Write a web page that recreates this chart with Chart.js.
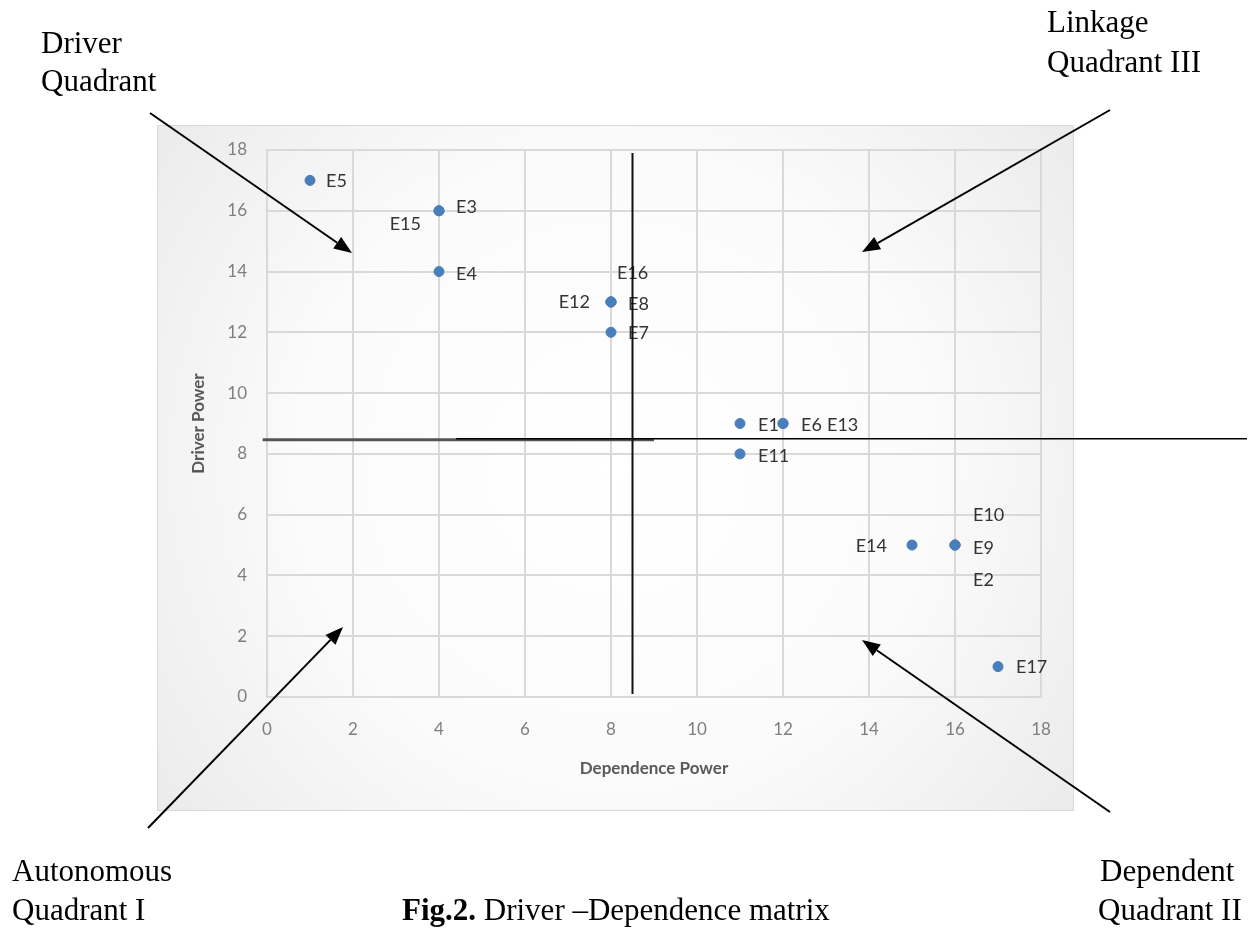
<!DOCTYPE html>
<html>
<head>
<meta charset="utf-8">
<script src="https://cdn.jsdelivr.net/npm/chart.js@4.4.0/dist/chart.umd.min.js"></script>
<style>
body { margin: 0; background: #fff; }
#wrap { width: 1260px; height: 935px; position: relative; }
</style>
</head>
<body>
<div id="wrap"><canvas id="matrix"></canvas></div>
<script>
// elements and their (dependence, driver) power
var codes      = ['E1','E2','E3','E4','E5','E6','E7','E8','E9','E10','E11','E12','E13','E14','E15','E16','E17'];
var dependence = [11, 16, 4, 4, 1, 12, 8, 8, 16, 16, 11, 8, 12, 15, 4, 8, 17];
var driver     = [9, 5, 16, 14, 17, 9, 12, 13, 5, 5, 8, 13, 9, 5, 16, 13, 1];
var axisTicks  = [0, 2, 4, 6, 8, 10, 12, 14, 16, 18];
var cutDependence = 8.5;
var cutDriver = 8.5;

// where each label sits next to its point (px offset, text alignment)
var labelPlace = {
    E1: [18, 2, 'left'], E2: [18, 35, 'left'], E3: [17, -4, 'left'], E4: [17, 3, 'left'],
    E5: [16, 1, 'left'], E6: [18, 2, 'left'], E7: [17, 1, 'left'], E8: [17, 2, 'left'],
    E9: [18, 3, 'left'], E10: [18, -30, 'left'], E11: [18, 2, 'left'], E12: [-21, 0, 'right'],
    E13: [44, 2, 'left'], E14: [-25, 1, 'right'], E15: [-18, 13, 'right'], E16: [6, -29, 'left'],
    E17: [18, 1, 'left']
};

var points = dependence.map(function(d, i) { return {x: d, y: driver[i]}; });

function arrow(ctx, x1, y1, x2, y2) {
    var len = Math.hypot(x2 - x1, y2 - y1);
    var ux = (x2 - x1) / len, uy = (y2 - y1) / len;
    var head = 18, half = 7;
    ctx.beginPath();
    ctx.moveTo(x1, y1);
    ctx.lineTo(x2 - ux * head, y2 - uy * head);
    ctx.stroke();
    ctx.beginPath();
    ctx.moveTo(x2, y2);
    ctx.lineTo(x2 - ux * head - uy * half, y2 - uy * head + ux * half);
    ctx.lineTo(x2 - ux * head + uy * half, y2 - uy * head - ux * half);
    ctx.closePath();
    ctx.fill();
}

var decor = {
    id: 'decor',
    beforeDraw: function(chart) {
        var ctx = chart.ctx, a = chart.chartArea;
        var bx = a.left - 110, by = a.top - 25, bw = (a.right + 32) - bx, bh = (a.bottom + 113) - by;
        ctx.save();
        var g = ctx.createRadialGradient(bx + bw / 2, by + bh / 2, 0, bx + bw / 2, by + bh / 2, Math.hypot(bw, bh) / 2);
        g.addColorStop(0, '#ffffff');
        g.addColorStop(0.55, '#fbfbfb');
        g.addColorStop(1, '#ebebeb');
        ctx.fillStyle = g;
        ctx.fillRect(bx, by, bw, bh);
        ctx.strokeStyle = '#d9d9d9';
        ctx.lineWidth = 1;
        ctx.strokeRect(bx + 0.5, by + 0.5, bw, bh);
        ctx.restore();
    },
    afterDatasetsDraw: function(chart) {
        var ctx = chart.ctx, xs = chart.scales.x, ys = chart.scales.y;
        ctx.save();
        // point labels
        ctx.font = '18px Lato';
        ctx.fillStyle = '#333333';
        ctx.textBaseline = 'middle';
        codes.forEach(function(c, i) {
            var p = labelPlace[c];
            ctx.textAlign = p[2];
            ctx.fillText(c, xs.getPixelForValue(dependence[i]) + p[0], ys.getPixelForValue(driver[i]) + p[1]);
        });

        // quadrant dividers
        var hy = ys.getPixelForValue(cutDriver);
        ctx.strokeStyle = '#555555';
        ctx.lineWidth = 3;
        ctx.beginPath();
        ctx.moveTo(xs.getPixelForValue(-0.1), hy + 1);
        ctx.lineTo(xs.getPixelForValue(9), hy + 1);
        ctx.stroke();
        ctx.strokeStyle = '#000';
        ctx.lineWidth = 1.6;
        ctx.beginPath();
        ctx.moveTo(xs.getPixelForValue(4.4), hy);
        ctx.lineTo(chart.width - 13, hy);
        ctx.stroke();
        var vx = xs.getPixelForValue(cutDependence);
        ctx.lineWidth = 2;
        ctx.strokeStyle = '#111';
        ctx.beginPath();
        ctx.moveTo(vx, ys.getPixelForValue(17.9));
        ctx.lineTo(vx, ys.getPixelForValue(0.1));
        ctx.stroke();

        // arrows to quadrants
        ctx.strokeStyle = '#000';
        ctx.fillStyle = '#000';
        ctx.lineWidth = 2;
        arrow(ctx, 150, 113, 352, 253);
        arrow(ctx, 1110, 110, 862, 252);
        arrow(ctx, 148, 828, 343, 627);
        arrow(ctx, 1110, 812, 862, 640);

        // quadrant names and caption
        ctx.font = '31px "Liberation Serif"';
        ctx.textAlign = 'left';
        ctx.textBaseline = 'alphabetic';
        ctx.fillText('Driver', 41, 53);
        ctx.fillText('Quadrant', 41, 91);
        ctx.fillText('Linkage', 1047, 32);
        ctx.fillText('Quadrant III', 1047, 72);
        ctx.fillText('Autonomous', 12, 881);
        ctx.fillText('Quadrant I', 12, 920);
        ctx.fillText('Dependent', 1100, 881);
        ctx.fillText('Quadrant II', 1098, 920);
        ctx.font = 'bold 31px "Liberation Serif"';
        ctx.fillText('Fig.2.', 402, 920);
        var w = ctx.measureText('Fig.2.').width;
        ctx.font = '31px "Liberation Serif"';
        ctx.fillText(' Driver \u2013Dependence matrix', 402 + w, 920);
        ctx.restore();
    }
};

var ctx = document.getElementById('matrix').getContext('2d');
var chart = new Chart(ctx, {
    type: 'scatter',
    data: {
        datasets: [{
            label: 'Elements',
            data: points,
            backgroundColor: '#4a7ebb',
            borderColor: '#4a7ebb',
            pointRadius: 5
        }]
    },
    options: {
        responsive: true,
        maintainAspectRatio: false,
        animation: false,
        layout: { padding: { left: 157, top: 150, right: 219, bottom: 125 } },
        plugins: { legend: { display: false }, tooltip: { enabled: false } },
        scales: {
            x: {
                min: 0, max: 18,
                afterFit: function(s) { s.height = 113; },
                afterBuildTicks: function(s) { s.ticks = axisTicks.map(function(v) { return {value: v}; }); },
                grid: { color: '#d9d9d9', lineWidth: 2, drawTicks: false },
                border: { color: '#d9d9d9', width: 2 },
                ticks: { color: '#7f7f7f', font: { family: 'Lato', size: 17 }, padding: 22 },
                title: { display: true, text: 'Dependence Power', color: '#595959',
                         font: { family: 'Lato', size: 17, weight: 'bold' }, padding: { bottom: 31 } }
            },
            y: {
                min: 0, max: 18,
                afterFit: function(s) { s.width = 110; },
                afterBuildTicks: function(s) { s.ticks = axisTicks.map(function(v) { return {value: v}; }); },
                grid: { color: '#d9d9d9', lineWidth: 2, drawTicks: false },
                border: { color: '#d9d9d9', width: 2 },
                ticks: { color: '#7f7f7f', font: { family: 'Lato', size: 17 }, padding: 20 },
                title: { display: true, text: 'Driver Power', color: '#595959',
                         font: { family: 'Lato', size: 17, weight: 'bold' }, padding: { top: 31 } }
            }
        }
    },
    plugins: [decor]
});
</script>
</body>
</html>
